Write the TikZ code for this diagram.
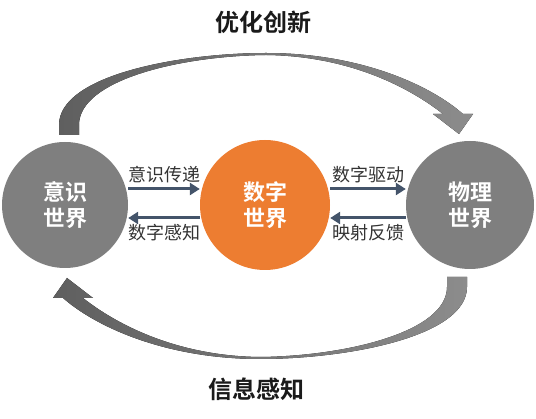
\documentclass[tikz,border=0pt]{standalone}
\usepackage{fontspec}
\usepackage{tikz}
\usetikzlibrary{positioning,arrows.meta,calc}
\newfontfamily\cjk{Noto Sans CJK SC}[BoldFont={Noto Sans CJK SC Bold}]
\definecolor{wGray}{RGB}{127,127,127}
\definecolor{wOrange}{RGB}{237,125,49}
\definecolor{wSlate}{RGB}{68,84,106}
\definecolor{wText}{RGB}{51,51,51}
\definecolor{wTitle}{RGB}{26,26,26}
\definecolor{arcDark}{RGB}{95,95,95}
\definecolor{arcLight}{RGB}{140,140,140}
\tikzset{
    base/.style={font=\cjk, align=center},
    world/.style={base, circle, fill=wGray, text=white, inner sep=0pt,
                  font=\cjk\bfseries\fontsize{22}{26}\selectfont},
    digital/.style={world, fill=wOrange},
    link/.style={-{Triangle[length=10pt,width=12pt]}, line width=3pt, color=wSlate},
    tag/.style={base, text=wText, font=\cjk\fontsize{18}{20}\selectfont, inner sep=5pt},
    title/.style={base, text=wTitle, font=\cjk\bfseries\fontsize{24}{28}\selectfont},
    loop/.style={left color=arcDark, right color=arcLight}
}

\begin{document}
\begin{tikzpicture}[x=1pt, y=-1pt]
  \useasboundingbox (0,0) rectangle (536,419);

  % Worlds
  \node[world, minimum size=126pt] (mind) at (65,205) {意识\\世界};
  \node[digital, minimum size=130pt] (digit) at (265,205) {数字\\世界};
  \node[world, minimum size=128pt] (phys) at (470,205) {物理\\世界};

  % Curved loop arrows
  \fill[loop] (59,135) -- (59,125) .. controls (59,75) and (180,53) .. (266,53)
     .. controls (360,53) and (430,85) .. (463,114) -- (473,114) -- (459,134)
     -- (433,114) -- (443,114) .. controls (410,88) and (350,56) .. (266,55)
     .. controls (180,56) and (79,80) .. (79,125) -- (79,135) -- cycle;
  \begin{scope}[rotate around={180:(263,206)}]
    \fill[loop] (59,135) -- (59,125) .. controls (59,75) and (180,53) .. (266,53)
       .. controls (360,53) and (430,85) .. (463,114) -- (473,114) -- (459,134)
       -- (433,114) -- (443,114) .. controls (410,88) and (350,56) .. (266,55)
       .. controls (180,56) and (79,80) .. (79,125) -- (79,135) -- cycle;
  \end{scope}

  % Titles
  \node[title] (optim) at (263,22) {优化创新};
  \node[title] (sense) at (256,389) {信息感知};

  % Links between worlds
  \draw[link] ([yshift=16pt]mind.east) -- node[tag, above] (l1) {意识传递} ([yshift=16pt]digit.west);
  \draw[link] ([yshift=-13pt]digit.west) -- node[tag, below] (l2) {数字感知} ([yshift=-13pt]mind.east);
  \draw[link] ([yshift=16pt]digit.east) -- node[tag, above] (l3) {数字驱动} ([yshift=16pt]phys.west);
  \draw[link] ([yshift=-13pt]phys.west) -- node[tag, below] (l4) {映射反馈} ([yshift=-13pt]digit.east);
\end{tikzpicture}
\end{document}
